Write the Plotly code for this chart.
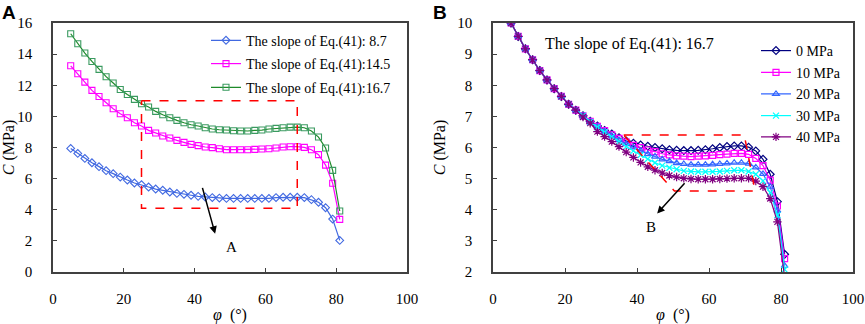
import plotly.graph_objects as go

phi = list(range(5, 82, 2))

# Panel A series
slope_8_7 = [7.94, 7.62, 7.30, 7.02, 6.77, 6.51, 6.32, 6.10, 5.91, 5.72, 5.61, 5.46, 5.33, 5.25,
             5.14, 5.05, 4.99, 4.93, 4.86, 4.82, 4.78, 4.75, 4.73, 4.73, 4.73, 4.73, 4.73, 4.73,
             4.73, 4.78, 4.80, 4.80, 4.80, 4.78, 4.65, 4.48, 4.13, 3.40, 2.03]
slope_14_5 = [13.25, 12.74, 12.20, 11.67, 11.28, 10.88, 10.49, 10.17, 9.91, 9.59, 9.38, 9.10,
              8.93, 8.74, 8.61, 8.46, 8.33, 8.20, 8.12, 8.03, 7.99, 7.92, 7.86, 7.86, 7.86, 7.86,
              7.88, 7.90, 7.92, 7.97, 8.03, 8.05, 8.05, 8.01, 7.86, 7.54, 6.87, 5.70, 3.38]
slope_16_7 = [15.31, 14.67, 14.07, 13.53, 13.02, 12.55, 12.14, 11.73, 11.41, 11.09, 10.81, 10.60,
              10.32, 10.10, 9.91, 9.74, 9.59, 9.46, 9.38, 9.27, 9.19, 9.14, 9.12, 9.08, 9.06, 9.06,
              9.10, 9.12, 9.19, 9.23, 9.27, 9.31, 9.31, 9.27, 9.06, 8.67, 7.97, 6.53, 3.92]

# Panel B series
common_B = [10.0, 9.57, 9.17, 8.82, 8.47, 8.17, 7.89, 7.64, 7.39, 7.20, 7.02]
p0 = common_B + [6.84, 6.69, 6.55, 6.43, 6.31, 6.21, 6.14, 6.08, 6.04, 6.00, 5.96, 5.93, 5.91,
                 5.90, 5.90, 5.91, 5.93, 5.96, 6.00, 6.03, 6.05, 6.05, 6.01, 5.89, 5.62, 5.14,
                 4.26, 2.57]
p10 = common_B + [6.84, 6.68, 6.54, 6.41, 6.29, 6.17, 6.07, 6.00, 5.92, 5.87, 5.80, 5.76, 5.73,
                  5.72, 5.71, 5.72, 5.73, 5.75, 5.77, 5.79, 5.81, 5.81, 5.78, 5.65, 5.42, 4.95,
                  4.12, 2.43]
p20 = common_B + [6.83, 6.67, 6.52, 6.38, 6.24, 6.11, 6.00, 5.90, 5.79, 5.71, 5.62, 5.56, 5.50,
                  5.47, 5.45, 5.45, 5.45, 5.46, 5.47, 5.49, 5.51, 5.51, 5.48, 5.36, 5.15, 4.74,
                  3.97, 2.20]
p30 = common_B + [6.82, 6.65, 6.49, 6.34, 6.19, 6.03, 5.89, 5.76, 5.63, 5.51, 5.42, 5.35, 5.30,
                  5.25, 5.23, 5.22, 5.22, 5.22, 5.23, 5.25, 5.27, 5.27, 5.23, 5.14, 4.93, 4.55,
                  3.83, 2.08]
p40 = common_B[:-1] + [6.98, 6.78, 6.51, 6.35, 6.19, 6.03, 5.85, 5.68, 5.52, 5.38, 5.27, 5.18,
                       5.10, 5.05, 5.01, 4.99, 4.98, 4.98, 4.98, 4.99, 5.00, 5.01, 5.01, 5.01,
                       4.92, 4.74, 4.36, 3.61, 1.84]

# Dashed boxes and arrows (data units)
boxA_x = [25, 69, 69, 25, 25]
boxA_y = [11, 11, 4.1, 4.1, 11]
boxB_x = [36.3, 69.8, 72.8, 50.4, 36.3]
boxB_y = [6.4, 6.4, 4.6, 4.6, 6.4]
arrowA = dict(tail=(42.1, 5.5), head=(45.8, 2.46), label=(50.5, 1.6))
arrowB = dict(tail=(53.6, 4.9), head=(45.6, 3.88), label=(43.9, 3.45))

xA_ticks = [0, 20, 40, 60, 80, 100]

W, H = 865, 324


def fx(px):
    return px / W


def fy(py):
    return 1 - py / H


SERIF = "Liberation Serif, Times New Roman, serif"

fig = go.Figure()

seriesA = [
    ("The slope of Eq.(41): 8.7", slope_8_7, "#4169E1", "#4169E1", "diamond-open"),
    ("The slope of Eq.(41):14.5", slope_14_5, "#FF00FF", "#FF00FF", "square-open"),
    ("The slope of Eq.(41):16.7", slope_16_7, "#1E8B2A", "#3A9A60", "square-open"),
]
legA_y = [40.7, 64.0, 87.7]
for i, (name, ys, lc, mc, sym) in enumerate(seriesA):
    lg = "legend" if i == 0 else f"legend{i+1}"
    fig.add_trace(go.Scatter(
        x=phi, y=ys, name=name, mode="lines+markers", xaxis="x", yaxis="y",
        line=dict(color=lc, width=1.2),
        marker=dict(symbol=sym, size=6, color=mc, line=dict(color=mc, width=1.1)),
        legend=lg,
    ))

seriesB = [
    ("0 MPa", p0, "#000080", "diamond-open", 6),
    ("10 MPa", p10, "#FF00FF", "square-open", 6),
    ("20 MPa", p20, "#3366FF", "triangle-up-open", 6),
    ("30 MPa", p30, "#00FFFF", "x-thin-open", 6),
    ("40 MPa", p40, "#800080", "asterisk-open", 7),
]
legB_y = [51.0, 72.7, 94.3, 116.0, 137.3]
for i, (name, ys, c, sym, sz) in enumerate(seriesB):
    fig.add_trace(go.Scatter(
        x=phi, y=ys, name=name, mode="lines+markers", xaxis="x2", yaxis="y2",
        line=dict(color=c, width=1.2),
        marker=dict(symbol=sym, size=sz, color=c, line=dict(color=c, width=1.2)),
        legend=f"legend{i+4}",
    ))

fig.add_trace(go.Scatter(x=boxA_x, y=boxA_y, mode="lines", xaxis="x", yaxis="y",
                         line=dict(color="#FF0000", width=1.5, dash="dash"), showlegend=False))
fig.add_trace(go.Scatter(x=boxB_x, y=boxB_y, mode="lines", xaxis="x2", yaxis="y2",
                         line=dict(color="#FF0000", width=1.5, dash="dash"), showlegend=False))

axis_common = dict(
    showgrid=False, zeroline=False, showline=True, linecolor="#404040", linewidth=1.5,
    mirror=True, ticks="inside", ticklen=4, tickcolor="#404040", tickwidth=1,
    tickfont=dict(family=SERIF, size=15, color="black"), automargin=False,
)
xtitle = dict(text="<i>φ</i>  (°)", font=dict(family=SERIF, size=16, color="black"), standoff=4)
ytitle = dict(text="<i>C</i> (MPa)", font=dict(family=SERIF, size=16, color="black"), standoff=8)
ydom = [fy(272), fy(23)]
fig.update_layout(
    width=W, height=H, margin=dict(l=0, r=0, t=0, b=0, autoexpand=False),
    paper_bgcolor="white", plot_bgcolor="white",
    xaxis=dict(domain=[fx(53), fx(407)], range=[0, 100], tickvals=xA_ticks, anchor="y",
               title=xtitle, ticklabelstandoff=12, **axis_common),
    yaxis=dict(domain=ydom, range=[0, 16], dtick=2, anchor="x",
               title=ytitle, ticklabelstandoff=16, **axis_common),
    xaxis2=dict(domain=[fx(493), fx(853)], range=[0, 100], tickvals=xA_ticks, anchor="y2",
                title=xtitle, ticklabelstandoff=12, **axis_common),
    yaxis2=dict(domain=ydom, range=[2, 10], dtick=1, anchor="x2",
                title=ytitle, ticklabelstandoff=16, **axis_common),
)

leg_common = dict(xref="paper", yref="paper", xanchor="left", yanchor="middle",
                  bgcolor="rgba(0,0,0,0)", borderwidth=0,
                  font=dict(family=SERIF, size=14, color="black"))
for i, yy in enumerate(legA_y):
    key = "legend" if i == 0 else f"legend{i+1}"
    fig.update_layout({key: dict(x=fx(206), y=fy(yy), **leg_common)})
for i, yy in enumerate(legB_y):
    fig.update_layout({f"legend{i+4}": dict(x=fx(756), y=fy(yy), **leg_common)})

annos = [
    dict(x=fx(0), y=fy(0), xref="paper", yref="paper", xanchor="left", yanchor="top",
         text="<b>A</b>", showarrow=False,
         font=dict(family="Liberation Sans", size=19, color="black")),
    dict(x=fx(431), y=fy(0), xref="paper", yref="paper", xanchor="left", yanchor="top",
         text="<b>B</b>", showarrow=False,
         font=dict(family="Liberation Sans", size=19, color="black")),
    dict(x=arrowA["head"][0], y=arrowA["head"][1], ax=arrowA["tail"][0], ay=arrowA["tail"][1],
         xref="x", yref="y", axref="x", ayref="y", text="", showarrow=True,
         arrowhead=2, arrowsize=1, arrowwidth=1.5, arrowcolor="black"),
    dict(x=arrowA["label"][0], y=arrowA["label"][1], xref="x", yref="y", text="A",
         showarrow=False, font=dict(family=SERIF, size=15, color="black")),
    dict(x=arrowB["head"][0], y=arrowB["head"][1], ax=arrowB["tail"][0], ay=arrowB["tail"][1],
         xref="x2", yref="y2", axref="x2", ayref="y2", text="", showarrow=True,
         arrowhead=2, arrowsize=1, arrowwidth=1.5, arrowcolor="black"),
    dict(x=arrowB["label"][0], y=arrowB["label"][1], xref="x2", yref="y2", text="B",
         showarrow=False, font=dict(family=SERIF, size=15, color="black")),
    dict(x=38, y=9.33, xref="x2", yref="y2", text="The slope of Eq.(41): 16.7",
         showarrow=False, font=dict(family=SERIF, size=16, color="black")),
]
fig.update_layout(annotations=annos)

fig.write_html("out.html", config={"displayModeBar": False},
               post_script="document.body.style.margin='0px';document.body.style.overflow='hidden';")
